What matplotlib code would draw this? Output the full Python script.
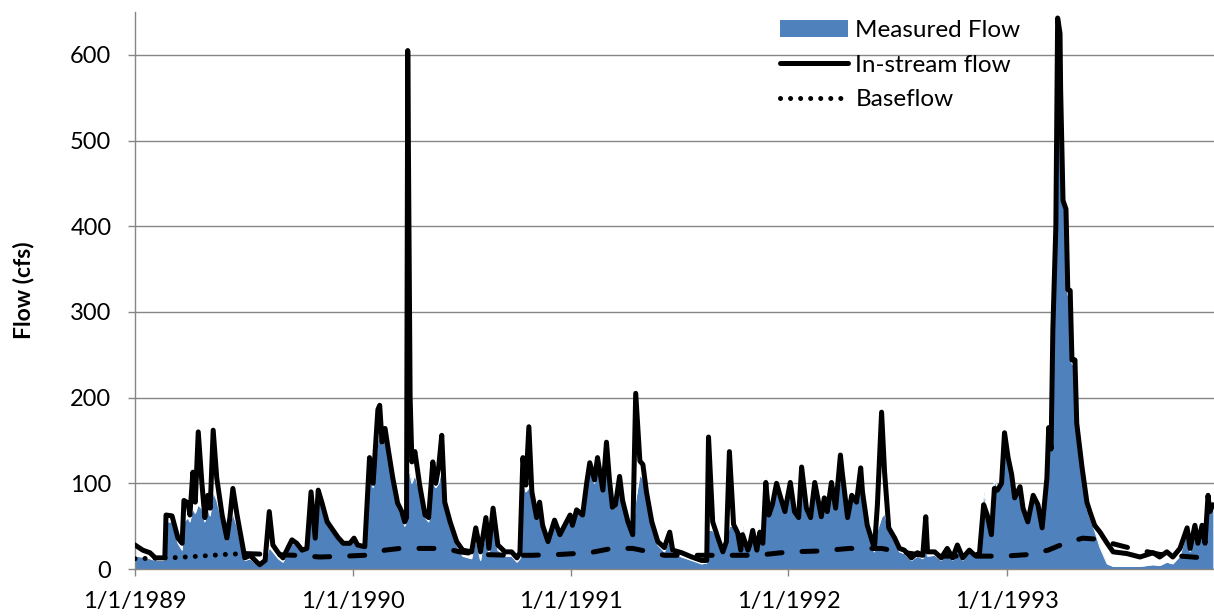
import pandas as pd
import matplotlib
matplotlib.use("Agg")
import matplotlib.pyplot as plt

# fuente parecida a Calibri
plt.rcParams['font.family'] = ['Lato', 'DejaVu Sans']

# caudal diario (fechas donde cambia la forma de la curva)
flow_dates = [
    # 1989
    "1989-01-01", "1989-01-14", "1989-01-26", "1989-02-04", "1989-02-15", "1989-02-20",
    "1989-02-22", "1989-03-04", "1989-03-14", "1989-03-21", "1989-03-24", "1989-03-31",
    "1989-04-03", "1989-04-08", "1989-04-12", "1989-04-17", "1989-04-23", "1989-04-28",
    "1989-05-03", "1989-05-07", "1989-05-12", "1989-05-18", "1989-05-27", "1989-06-04",
    "1989-06-09", "1989-06-14", "1989-06-21", "1989-06-29", "1989-07-04", "1989-07-13",
    "1989-07-24", "1989-07-29", "1989-08-07", "1989-08-14", "1989-08-20", "1989-08-29",
    "1989-09-06", "1989-09-21", "1989-09-29", "1989-10-08", "1989-10-16", "1989-10-23",
    "1989-10-30", "1989-11-04", "1989-11-10", "1989-11-19", "1989-12-07", "1989-12-16",
    "1989-12-27",
    # 1990
    "1990-01-03", "1990-01-09", "1990-01-21", "1990-01-29", "1990-02-04", "1990-02-12",
    "1990-02-15", "1990-02-19", "1990-02-24", "1990-03-01", "1990-03-09", "1990-03-17",
    "1990-03-24", "1990-03-29", "1990-04-01", "1990-04-03", "1990-04-07", "1990-04-10",
    "1990-04-15", "1990-04-23", "1990-05-02", "1990-05-08", "1990-05-15", "1990-05-20",
    "1990-05-25", "1990-05-30", "1990-06-04", "1990-06-13", "1990-06-24", "1990-07-04",
    "1990-07-19", "1990-07-26", "1990-08-03", "1990-08-12", "1990-08-17", "1990-08-24",
    "1990-09-01", "1990-09-13", "1990-09-24", "1990-10-03", "1990-10-08", "1990-10-13",
    "1990-10-18", "1990-10-23", "1990-10-28", "1990-11-05", "1990-11-10", "1990-11-15",
    "1990-11-24", "1990-12-05", "1990-12-14", "1990-12-22", "1990-12-31",
    # 1991
    "1991-01-04", "1991-01-11", "1991-01-21", "1991-01-28", "1991-02-02", "1991-02-10",
    "1991-02-15", "1991-02-24", "1991-03-02", "1991-03-07", "1991-03-12", "1991-03-17",
    "1991-03-24", "1991-03-29", "1991-04-07", "1991-04-15", "1991-04-20", "1991-04-27",
    "1991-05-02", "1991-05-08", "1991-05-17", "1991-05-27", "1991-06-07", "1991-06-16",
    "1991-06-21", "1991-07-06", "1991-07-23", "1991-08-08", "1991-08-17", "1991-08-20",
    "1991-08-27", "1991-09-04", "1991-09-13", "1991-09-19", "1991-09-24", "1991-10-01",
    "1991-10-08", "1991-10-13", "1991-10-16", "1991-10-25", "1991-10-28", "1991-11-02",
    "1991-11-09", "1991-11-14", "1991-11-19", "1991-11-24", "1991-11-29", "1991-12-05",
    "1991-12-12", "1991-12-19", "1991-12-26",
    # 1992
    "1992-01-04", "1992-01-11", "1992-01-18", "1992-01-23", "1992-01-31", "1992-02-07",
    "1992-02-14", "1992-02-19", "1992-02-25", "1992-03-01", "1992-03-06", "1992-03-13",
    "1992-03-20", "1992-03-28", "1992-03-31", "1992-04-09", "1992-04-16", "1992-04-24",
    "1992-05-01", "1992-05-04", "1992-05-12", "1992-05-24", "1992-05-29", "1992-06-05",
    "1992-06-10", "1992-06-17", "1992-06-27", "1992-07-05", "1992-07-13", "1992-07-25",
    "1992-08-04", "1992-08-13", "1992-08-18", "1992-08-21", "1992-09-02", "1992-09-13",
    "1992-09-23", "1992-10-02", "1992-10-10", "1992-10-19", "1992-10-30", "1992-11-08",
    "1992-11-16", "1992-11-23", "1992-11-29", "1992-12-06", "1992-12-11", "1992-12-16",
    "1992-12-23", "1992-12-28",
    # 1993
    "1993-01-03", "1993-01-09", "1993-01-14", "1993-01-23", "1993-01-28", "1993-02-05",
    "1993-02-14", "1993-02-22", "1993-03-01", "1993-03-09", "1993-03-12", "1993-03-16",
    "1993-03-19", "1993-03-24", "1993-03-27", "1993-03-31", "1993-04-01", "1993-04-05",
    "1993-04-10", "1993-04-13", "1993-04-17", "1993-04-20", "1993-04-25", "1993-04-28",
    "1993-05-07", "1993-05-15", "1993-05-20", "1993-05-28", "1993-06-06", "1993-06-18",
    "1993-06-28", "1993-07-21", "1993-08-12", "1993-09-03", "1993-09-14", "1993-09-26",
    "1993-10-06", "1993-10-18", "1993-10-30", "1993-11-04", "1993-11-12", "1993-11-17",
    "1993-11-24", "1993-11-29", "1993-12-04", "1993-12-07", "1993-12-12",
]

# caudal en el cauce (linea negra), cfs
instream = [
    # 1989
    28, 22, 19, 13, 13, 13, 63, 62, 36, 30, 80, 77,
    63, 113, 78, 160, 101, 60, 86, 71, 162, 106, 63, 36,
    60, 94, 63, 32, 13, 16, 8, 5, 10, 67, 28, 19,
    13, 34, 30, 22, 24, 90, 36, 92, 78, 55, 37, 30,
    30,
    # 1990
    36, 28, 26, 130, 100, 186, 191, 148, 164, 141, 106, 77,
    67, 55, 60, 605, 200, 125, 137, 98, 63, 60, 125, 100,
    120, 156, 78, 55, 32, 22, 20, 48, 20, 60, 24, 71,
    28, 20, 20, 13, 19, 130, 98, 166, 90, 60, 78, 51,
    32, 57, 40, 51, 63,
    # 1991
    51, 69, 63, 101, 124, 104, 130, 92, 148, 104, 72, 75,
    108, 80, 55, 40, 205, 126, 122, 90, 55, 32, 25, 43,
    22, 19, 14, 10, 10, 154, 55, 38, 20, 32, 137, 52,
    42, 22, 40, 22, 28, 45, 22, 43, 30, 101, 63, 75,
    100, 83, 67,
    # 1992
    101, 67, 60, 119, 71, 60, 101, 83, 61, 83, 67, 101,
    71, 133, 113, 60, 86, 78, 118, 90, 51, 24, 75, 183,
    113, 48, 36, 24, 22, 13, 19, 16, 61, 20, 20, 13,
    24, 13, 28, 13, 22, 16, 18, 75, 63, 40, 94, 92,
    100, 159,
    # 1993
    130, 110, 83, 96, 71, 55, 86, 75, 48, 106, 165, 140,
    280, 400, 643, 625, 560, 430, 420, 326, 325, 244, 244, 170,
    118, 78, 67, 51, 43, 30, 20, 18, 14, 19, 14, 20,
    14, 24, 48, 24, 51, 30, 51, 30, 86, 67, 75,
]

# caudal medido (area azul), cfs
measured = [
    # 1989
    15, 14, 12, 10, 10, 10, 55, 55, 30, 22, 55, 60,
    55, 70, 65, 75, 70, 55, 70, 62, 90, 80, 55, 33,
    50, 65, 50, 25, 10, 12, 5, 3, 8, 25, 20, 12,
    8, 30, 28, 22, 28, 98, 45, 98, 85, 62, 42, 33,
    30,
    # 1990
    33, 28, 24, 110, 95, 150, 170, 145, 150, 135, 100, 72,
    62, 50, 55, 120, 110, 100, 110, 90, 60, 55, 100, 95,
    100, 120, 75, 50, 28, 15, 12, 35, 10, 45, 15, 55,
    22, 15, 15, 8, 12, 100, 90, 95, 85, 62, 75, 52,
    35, 55, 42, 55, 62,
    # 1991
    52, 70, 62, 95, 118, 100, 125, 90, 140, 100, 70, 72,
    100, 78, 52, 38, 80, 110, 105, 85, 50, 28, 20, 35,
    18, 14, 10, 6, 7, 45, 45, 35, 18, 30, 50, 50,
    45, 25, 50, 25, 30, 50, 25, 45, 32, 108, 65, 78,
    100, 85, 68,
    # 1992
    100, 68, 62, 110, 72, 62, 98, 82, 62, 82, 70, 100,
    75, 125, 110, 62, 85, 78, 110, 88, 50, 20, 45, 60,
    65, 45, 32, 20, 18, 10, 15, 12, 25, 15, 16, 10,
    20, 10, 25, 10, 20, 14, 28, 90, 65, 45, 105, 95,
    105, 140,
    # 1993
    125, 110, 85, 95, 75, 55, 90, 78, 48, 110, 160, 150,
    280, 400, 630, 615, 550, 430, 410, 320, 315, 240, 235, 165,
    110, 70, 60, 45, 25, 6, 3, 3, 3, 5, 4, 8,
    6, 15, 45, 20, 50, 28, 48, 28, 80, 65, 70,
]

# flujo base
base_dates = [
    "1989-01-01", "1989-03-01", "1989-04-20", "1989-06-01", "1989-07-04",
    "1989-08-15", "1989-09-26", "1989-11-07", "1989-12-19", "1990-01-21",
    "1990-02-24", "1990-03-21", "1990-06-04", "1990-06-29", "1990-08-02",
    "1990-09-21", "1990-10-28", "1990-12-14", "1991-02-02", "1991-03-11",
    "1991-04-15", "1991-05-13", "1991-06-07", "1991-08-05", "1991-11-09",
    "1992-01-03", "1992-02-22", "1992-04-12", "1992-06-05", "1992-07-05",
    "1992-08-24", "1992-12-28", "1993-02-09", "1993-03-11", "1993-04-08",
    "1993-05-08", "1993-05-28", "1993-07-23", "1993-09-14", "1993-12-14",
]
baseflow = [
    12, 13, 15, 17, 18,
    17, 16, 14, 15, 16,
    22, 24, 24, 20, 17,
    16, 16, 17, 19, 24,
    24, 20, 16, 16, 16,
    20, 21, 24, 24, 20,
    15, 15, 17, 22, 30,
    36, 35, 25, 17, 12,
]
n_dotted = 5  # los primeros puntos van punteados, el resto a trazos

year_ticks = ["1989-01-01", "1990-01-01", "1991-01-01", "1992-01-01", "1993-01-01"]
year_labels = ["1/1/1989", "1/1/1990", "1/1/1991", "1/1/1992", "1/1/1993"]

fig = plt.figure(figsize=(12.14, 6.16), dpi=100)
ax = fig.add_axes([135 / 1214, 1 - 569 / 616, 1 - 135 / 1214, 557 / 616])

d = pd.to_datetime(flow_dates)
b = pd.to_datetime(base_dates)

# area azul del caudal medido
ax.fill_between(d, measured, 0, color="#4F81BD", linewidth=0, zorder=2,
                label="Measured Flow")
ax.plot(d, measured, color="white", lw=0.8, zorder=2.5)

# linea del caudal en el cauce
ax.plot(d, instream, color="black", lw=3.6, solid_joinstyle="round",
        solid_capstyle="round", zorder=4, label="In-stream flow")

# flujo base: punteado y luego a trazos
ax.plot(b[:n_dotted], baseflow[:n_dotted], color="black", lw=3.6,
        linestyle=(0, (0.01, 2)), dash_capstyle="round", zorder=3,
        label="Baseflow")
ax.plot(b[n_dotted - 1:], baseflow[n_dotted - 1:], color="black", lw=3.6,
        linestyle=(0, (3, 4)), dash_capstyle="round", zorder=3)

# ejes
ax.set_ylim(0, 650)
ax.set_yticks(range(0, 700, 100))
ax.set_xlim(pd.Timestamp("1989-01-01"), pd.Timestamp("1993-12-14"))
ax.set_xticks(pd.to_datetime(year_ticks))
ax.set_xticklabels(year_labels)

ax.yaxis.grid(True, color="#868686", lw=1.0)
ax.set_axisbelow(True)
for s in ["top", "right"]:
    ax.spines[s].set_visible(False)
for s in ["left", "bottom"]:
    ax.spines[s].set_color("#868686")
    ax.spines[s].set_linewidth(1.0)
ax.tick_params(axis="both", direction="out", length=5, width=1,
               color="#868686", labelsize=17)
ax.tick_params(axis="y", pad=12)
ax.tick_params(axis="x", pad=11)

ax.set_ylabel("Flow (cfs)", fontsize=16.5, fontweight="bold")
ax.yaxis.set_label_coords(-0.093, 0.5)

ax.legend(loc="upper left", bbox_to_anchor=(780 / 1214, 1 - 20 / 616),
          bbox_transform=fig.transFigure, frameon=False, fontsize=17.5,
          handlelength=2.8, handletextpad=0.3, labelspacing=0.56,
          borderaxespad=0, borderpad=0)

fig.savefig("out.png", dpi=100)
